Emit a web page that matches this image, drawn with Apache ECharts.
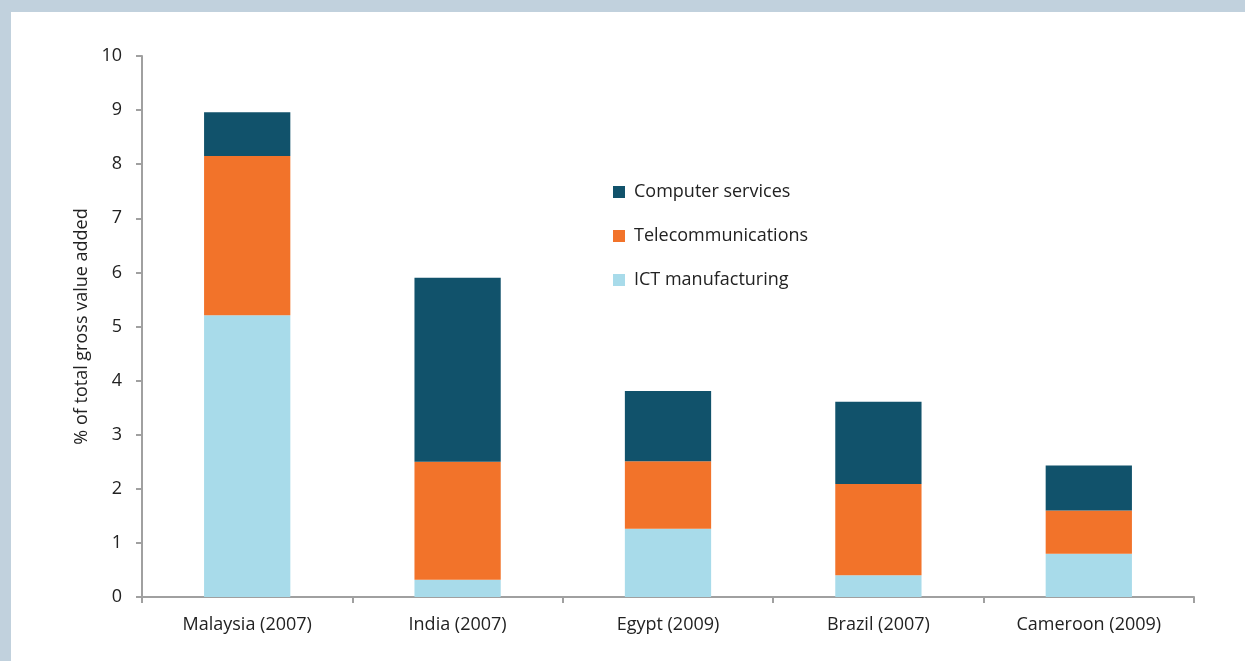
<!DOCTYPE html>
<html>
<head>
<meta charset="utf-8">
<script src="https://cdn.jsdelivr.net/npm/echarts@6/dist/echarts.min.js"></script>
<style>
html,body{margin:0;padding:0;background:#c1d1dd;width:1245px;height:661px;overflow:hidden;}
#chart{position:absolute;left:11px;top:12px;width:1234px;height:649px;background:#ffffff;}
</style>
</head>
<body>
<div id="chart"></div>
<script>
var categories = ['Malaysia (2007)', 'India (2007)', 'Egypt (2009)', 'Brazil (2007)', 'Cameroon (2009)'];
var ictManufacturing = [5.21, 0.32, 1.26, 0.40, 0.80];
var telecommunications = [2.94, 2.18, 1.25, 1.69, 0.80];
var computerServices = [0.81, 3.40, 1.30, 1.52, 0.83];
var yTicks = { min: 0, max: 10, interval: 1 };

var chart = echarts.init(document.getElementById('chart'));
var fontFam = '"Open Sans", "Noto Sans", sans-serif';
chart.setOption({
  animation: false,
  textStyle: { fontFamily: fontFam },
  grid: { left: 131, right: 51, top: 44, bottom: 64 },
  legend: {
    orient: 'vertical',
    left: 597,
    top: 164,
    itemWidth: 12,
    itemHeight: 12,
    itemGap: 22,
    icon: 'rect',
    textStyle: { fontSize: 18, color: '#222', fontFamily: fontFam, lineHeight: 22, padding: [0, 0, 0, 4] },
    data: ['Computer services', 'Telecommunications', 'ICT manufacturing']
  },
  xAxis: {
    type: 'category',
    data: categories,
    boundaryGap: true,
    axisLine: { lineStyle: { color: '#a0a0a0', width: 2 } },
    axisTick: { show: true, length: 6, lineStyle: { color: '#a0a0a0', width: 2 } },
    axisLabel: { fontSize: 18, color: '#222', margin: 19, fontFamily: fontFam }
  },
  yAxis: {
    type: 'value',
    min: yTicks.min, max: yTicks.max, interval: yTicks.interval,
    name: '% of total gross value added',
    nameLocation: 'middle',
    nameGap: 50,
    nameRotate: 90,
    nameTextStyle: { fontSize: 18, color: '#222', fontFamily: fontFam },
    axisLine: { show: true, lineStyle: { color: '#a0a0a0', width: 2 } },
    axisTick: { show: true, length: 6, lineStyle: { color: '#a0a0a0', width: 2 } },
    axisLabel: { fontSize: 18, color: '#222', margin: 20, fontFamily: fontFam },
    splitLine: { show: false }
  },
  series: [
    { name: 'ICT manufacturing', type: 'bar', stack: 'a', data: ictManufacturing, barWidth: '41%',
      itemStyle: { color: '#a8dbea' } },
    { name: 'Telecommunications', type: 'bar', stack: 'a', data: telecommunications, barWidth: '41%',
      itemStyle: { color: '#f2732a' } },
    { name: 'Computer services', type: 'bar', stack: 'a', data: computerServices, barWidth: '41%',
      itemStyle: { color: '#11526b' } }
  ]
});
</script>
</body>
</html>
